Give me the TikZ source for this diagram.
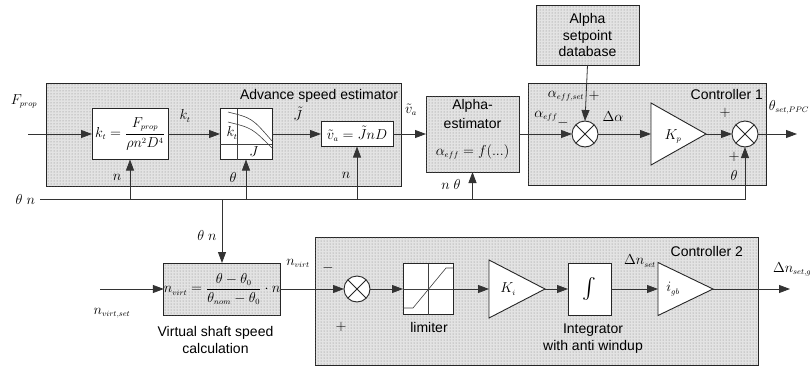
\documentclass[tikz,border=0pt]{standalone}
\usepackage{amsmath}
\usepackage{fontspec}
\setmainfont{Liberation Sans}
\DeclareMathSizes{14}{14}{8.5}{6.5}
\usetikzlibrary{arrows.meta,patterns}
\begin{document}
\begin{tikzpicture}[x=1pt,y=-1pt,
  font=\fontsize{14}{16.5}\selectfont,
  every node/.style={inner sep=0pt,outer sep=0pt},
  shaded/.style={draw=black!85,line width=0.9pt,fill=black!11,postaction={pattern=dots,pattern color=black!50}},
  wbox/.style={draw=black!85,line width=0.9pt,fill=white},
  sig/.style={draw=black!80,line width=0.8pt,-{Triangle[length=11pt,width=8pt]}},
  ln/.style={draw=black!80,line width=0.8pt},
  thin/.style={draw=black!75,line width=0.6pt},
  sumj/.style={circle,draw=black!85,line width=0.9pt,fill=white,minimum size=26pt,
    path picture={\draw[line width=0.9pt,black!85] (path picture bounding box.north west) -- (path picture bounding box.south east)
      (path picture bounding box.north east) -- (path picture bounding box.south west);}},
  hold/.style={draw=none}
]
\useasboundingbox (0,0) rectangle (810,367);
\fill[white] (0,0) rectangle (810,367);

% ---------- containers ----------
\node[shaded,anchor=north west,minimum width=355pt,minimum height=103pt] (adv) at (46,83) {};
\node[anchor=base east] (advlbl) at (398,99) {Advance speed estimator};
\node[shaded,anchor=north west,minimum width=238pt,minimum height=102pt] (c1) at (528,83) {};
\node[anchor=base east] (c1lbl) at (763,99) {Controller 1};
\node[shaded,anchor=north west,minimum width=443pt,minimum height=128pt] (c2) at (315,237) {};
\node[anchor=base east] (c2lbl) at (743,256) {Controller 2};
\node[shaded,minimum width=103pt,minimum height=60pt,align=center] (db) at (587.5,35) {Alpha\\setpoint\\database};
\node[shaded,minimum width=93pt,minimum height=76pt] (ae) at (472.5,134) {};
\node (ae1) at (472.5,106) {Alpha-};
\node (ae2) at (472.5,123) {estimator};
\node (ae3) at (472.5,152) {$\alpha_{eff}=f(...)$};

% ---------- row 1 ----------
\node[wbox,minimum width=76pt,minimum height=51pt] (kt) at (130,134) {$k_t=\dfrac{F_{prop}}{\rho n^2D^4}$};
\node[wbox,minimum width=52pt,minimum height=51pt] (chart) at (246,134) {};
\draw[thin] (237,108.5) -- (237,159.5);
\draw[thin] (220,144) -- (272,144);
\draw[thin] (228,112) .. controls (252,118) .. (272,141);
\draw[thin] (228,122) .. controls (252,128) .. (272,148);
\node (ktc) at (232,133) {$k_t$};
\node (jc) at (254,152) {$J$};
\node[wbox,minimum width=72pt,minimum height=25pt] (va) at (357,134) {$\tilde{v}_a=\tilde{J}nD$};
\node[sumj] (j1) at (585,134) {};
\node[hold,minimum width=55pt,minimum height=62pt] (kp) at (678.5,134) {};
\draw[wbox] (kp.north west) -- (kp.east) -- (kp.south west) -- cycle;
\node (kplbl) at (673,136) {$K_p$};
\node[sumj] (j2) at (745,134) {};

\coordinate (fin) at (28,134);
\coordinate (out1) at (797,134);
\draw[sig] (fin) -- (kt.west);
\draw[sig] (kt.east) -- (chart.west);
\draw[sig] (chart.east) -- (va.west);
\draw[sig] (va.east) -- (ae.west);
\draw[sig] (ae.east) -- (j1.west);
\draw[sig] (db.south) -- (j1.north);
\draw[sig] (j1.east) -- (kp.west);
\draw[sig] (kp.east) -- (j2.west);
\draw[sig] (j2.east) -- (out1);

\node (fprop) at (24,101) {$F_{prop}$};
\node (ktl) at (185,116) {$k_t$};
\node (jl) at (298,114) {$\tilde{J}$};
\node (val) at (411,110) {$\tilde{v}_a$};
\node (aeffset) at (566,96) {$\alpha_{eff,set}$};
\node (p1) at (594,96) {$+$};
\node (aeff) at (546,116) {$\alpha_{eff}$};
\node (m1) at (563,123) {$-$};
\node (dal) at (613,117) {$\Delta\alpha$};
\node (p2) at (725,113) {$+$};
\node (p3) at (734,157) {$+$};
\node (th2) at (734,175) {$\theta$};
\node[anchor=east] (thppc) at (809,107) {$\theta_{set,PPC}$};

% ---------- bus ----------
\coordinate (busL) at (40,199);
\node[anchor=east] (busl) at (35,199) {$\theta\ n$};
\draw[sig] (busL) -- (j2.south |- busL) -- (j2.south);
\draw[sig] (kt.south |- busL) -- (kt.south);
\draw[sig] (chart.south |- busL) -- (chart.south);
\draw[sig] (va.south |- busL) -- (va.south);
\draw[sig] (ae.south |- busL) -- (ae.south);
\node (nl1) at (117,177) {$n$};
\node (thl1) at (233,177) {$\theta$};
\node (nl2) at (346,175) {$n$};
\node (ntl) at (451,184) {$n\ \theta$};

% ---------- row 2 ----------
\node[shaded,minimum width=110pt,minimum height=52pt] (virt) at (222,289) {$n_{virt}=\dfrac{\theta-\theta_0}{\theta_{nom}-\theta_0}\cdot n$};
\draw[sig] (virt.north |- busL) -- (virt.north);
\node (tnl) at (207,235) {$\theta\ n$};
\node[align=center] (virtl) at (215.5,340) {Virtual shaft speed\\calculation};
\node[sumj] (j3) at (357,289) {};
\node[wbox,minimum width=50pt,minimum height=51pt] (lim) at (428,289) {};
\draw[thin] (428,263.5) -- (428,314.5);
\draw[thin] (403,289) -- (453,289);
\draw[thin] (403,308) -- (413,308) -- (446,268) -- (453,268);
\node (liml) at (429,327) {limiter};
\node[hold,minimum width=56pt,minimum height=58pt] (ki) at (517,289) {};
\draw[wbox] (ki.north west) -- (ki.east) -- (ki.south west) -- cycle;
\node (kil) at (508,289) {$K_i$};
\node[wbox,minimum width=43pt,minimum height=52pt] (integ) at (589.5,289) {\fontsize{20}{22}\selectfont$\int$};
\node[align=center] (integl) at (593,338.5) {Integrator\\with anti windup};
\node[hold,minimum width=55pt,minimum height=53pt] (igb) at (685.5,289) {};
\draw[wbox] (igb.north west) -- (igb.east) -- (igb.south west) -- cycle;
\node (igbl) at (673,289) {$i_{gb}$};

\coordinate (nin) at (100,289);
\coordinate (out2) at (790,289);
\draw[sig] (nin) -- (virt.west);
\draw[sig] (virt.east) -- (j3.west);
\draw[sig] (j3.east) -- (lim.west);
\draw[sig] (lim.east) -- (ki.west);
\draw[sig] (ki.east) -- (integ.west);
\draw[sig] (integ.east) -- (igb.west);
\draw[sig] (igb.east) -- (out2);

\node (nvs) at (112,313) {$n_{virt,set}$};
\node (nvl) at (298,263) {$n_{virt}$};
\node (m3) at (328,268) {$-$};
\node (p4) at (341,327) {$+$};
\node (dns) at (640,261) {$\Delta n_{set}$};
\node[anchor=west] (dnsg) at (773,269) {$\Delta n_{set,gov}$};
\end{tikzpicture}
\end{document}
